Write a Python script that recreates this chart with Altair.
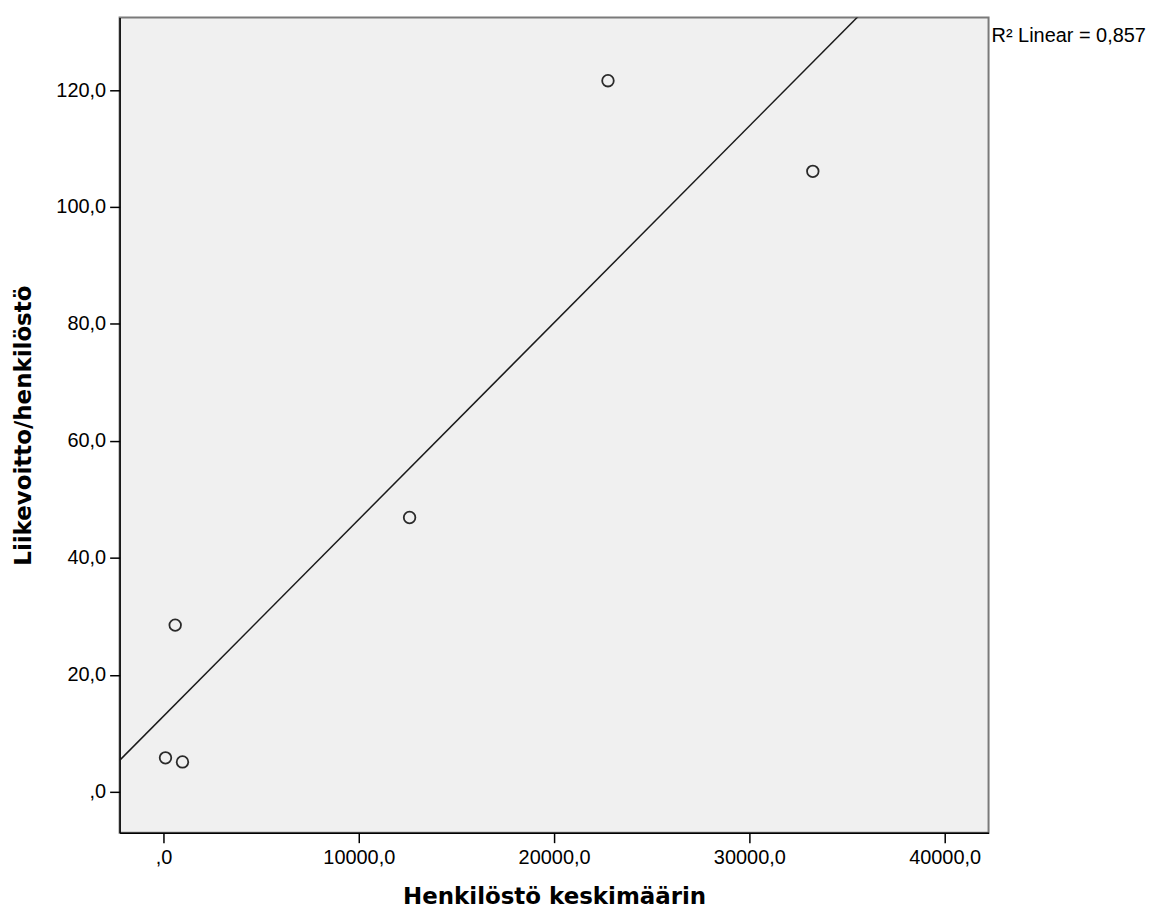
import altair as alt
import pandas as pd

# Data
x_vals = [100, 970, 597, 12600, 22760, 33250]
y_vals = [5.8, 5.1, 28.5, 46.9, 121.6, 106.1]
x_ticks = [0, 10000, 20000, 30000, 40000]
y_ticks = [0, 20, 40, 60, 80, 100, 120]
x_domain = [-2250, 42250]
y_domain = [-7.0, 132.4]
r2_label = ["R\u00b2 Linear = 0,857"]

df = pd.DataFrame({"x": x_vals, "y": y_vals})
ann = pd.DataFrame({"t": r2_label})

label_expr = "datum.value == 0 ? ',0' : replace(format(datum.value, '.1f'), '.', ',')"

xscale = alt.Scale(domain=x_domain, nice=False, zero=False)
yscale = alt.Scale(domain=y_domain, nice=False, zero=False)

xaxis = alt.Axis(values=x_ticks, labelExpr=label_expr, title="Henkilöstö keskimäärin",
                 grid=False, labelPadding=5, titlePadding=18)
yaxis = alt.Axis(values=y_ticks, labelExpr=label_expr, title="Liikevoitto/henkilöstö",
                 grid=False, labelPadding=4, titlePadding=20)

base = alt.Chart(df)

points = base.mark_point(shape="circle", filled=False, size=135, strokeWidth=1.8,
                         color="#2a2a2a", opacity=1).encode(
    x=alt.X("x:Q", scale=xscale, axis=xaxis),
    y=alt.Y("y:Q", scale=yscale, axis=yaxis),
)

fit = base.transform_regression("x", "y", extent=x_domain).mark_line(
    clip=True, color="#1a1a1a", strokeWidth=1.5
).encode(
    x=alt.X("x:Q", scale=xscale),
    y=alt.Y("y:Q", scale=yscale),
)

label = alt.Chart(ann).mark_text(
    align="left", baseline="top", fontSize=20, font="Liberation Sans", color="black"
).encode(
    x=alt.value(875), y=alt.value(9), text="t:N"
)

chart = alt.layer(fit, points, label).properties(
    width=872, height=818,
    autosize=alt.AutoSizeParams(type="none"),
    padding={"left": 112, "top": 8, "right": 158, "bottom": 78},
    background="white",
).configure_view(
    fill="#f0f0f0", stroke="#7a7a7a", strokeWidth=2
).configure_axis(
    domainColor="black", domainWidth=1.5,
    tickColor="black", tickWidth=1.5, tickSize=10,
    labelFont="Liberation Sans", labelFontSize=20, labelColor="black",
    titleFont="DejaVu Sans", titleFontSize=23, titleFontWeight="bold", titleColor="black",
)

chart.save("out.html", embed_options={"renderer": "svg", "actions": False})
